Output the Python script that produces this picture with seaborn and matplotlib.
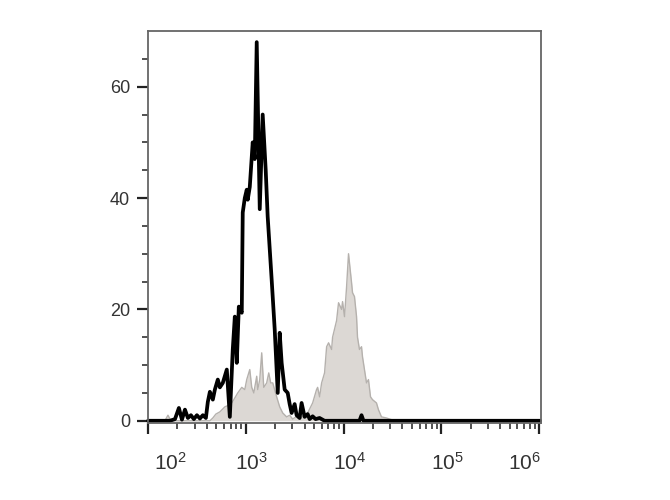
import numpy as np
import seaborn as sns
import matplotlib
matplotlib.use("Agg")
import matplotlib.pyplot as plt
from matplotlib.ticker import LogLocator, FixedLocator, NullFormatter
from matplotlib.transforms import ScaledTranslation

# black histogram (stained sample): log10 intensity and event count
black_log = [2.000, 2.224, 2.276, 2.316, 2.347, 2.378, 2.408, 2.439, 2.469, 2.500,
             2.531, 2.561, 2.592, 2.612, 2.633, 2.663, 2.684, 2.714, 2.735, 2.765,
             2.806, 2.837, 2.867, 2.888, 2.908, 2.929, 2.959, 2.969, 2.990, 3.010,
             3.020, 3.041, 3.071, 3.092, 3.112, 3.143, 3.173, 3.204, 3.224, 3.265,
             3.296, 3.327, 3.347, 3.367, 3.398, 3.429, 3.449, 3.469, 3.500, 3.520,
             3.551, 3.571, 3.602, 3.633, 3.653, 3.684, 3.714, 3.755, 3.806, 4.163,
             4.184, 4.204, 6.010]
black_count = [0, 0, 0.3, 2.3, 0.2, 2.0, 0.5, 1.0, 0.3, 1.0,
               0.4, 1.0, 0.5, 3.4, 5.2, 3.8, 5.6, 7.4, 6.0, 6.8,
               9.2, 0.7, 12.8, 18.7, 10.4, 20.5, 19.4, 37.4, 40.0, 41.5,
               39.7, 42.0, 50.0, 47.0, 68.0, 38.0, 55.0, 45.0, 36.7, 25.3,
               16.4, 5.0, 15.8, 10.4, 5.6, 5.0, 3.0, 1.4, 3.0, 1.0,
               0.5, 3.2, 0.7, 1.2, 0.3, 0.8, 0.3, 0.5, 0, 0,
               1.0, 0, 0]

# gray filled histogram (control)
gray_log = [2.173, 2.204, 2.235, 2.633, 2.663, 2.694, 2.735, 2.786, 2.827, 2.857,
            2.888, 2.918, 2.959, 2.990, 3.010, 3.041, 3.061, 3.082, 3.112, 3.122,
            3.143, 3.163, 3.184, 3.214, 3.235, 3.255, 3.276, 3.316, 3.347, 3.378,
            3.418, 3.449, 3.480, 3.520, 3.551, 3.592, 3.633, 3.684, 3.724, 3.735,
            3.755, 3.776, 3.806, 3.827, 3.847, 3.878, 3.888, 3.929, 3.949, 3.980,
            3.990, 4.010, 4.031, 4.051, 4.082, 4.092, 4.112, 4.133, 4.143, 4.163,
            4.184, 4.194, 4.214, 4.235, 4.255, 4.276, 4.296, 4.337, 4.357, 4.388,
            4.439, 4.490, 4.520]
gray_count = [0, 1.0, 0, 0, 0.5, 1.2, 1.6, 2.5, 2.8, 3.2,
              4.1, 5.0, 6.0, 5.6, 7.4, 9.2, 6.0, 5.0, 8.0, 5.6,
              7.4, 12.2, 6.0, 6.8, 8.6, 6.8, 6.8, 4.3, 2.5, 1.4,
              0.7, 1.0, 0.3, 0.8, 0.3, 1.0, 1.4, 3.2, 5.6, 6.0,
              4.3, 6.8, 8.6, 13.3, 14.0, 12.8, 15.0, 18.0, 21.2, 20.0,
              21.4, 18.7, 24.0, 30.0, 24.8, 23.0, 22.3, 18.7, 15.0, 12.8,
              13.3, 11.5, 9.2, 6.8, 7.4, 4.3, 3.8, 3.2, 2.0, 0.7,
              0.5, 0.2, 0]

x_ticks = [1e2, 1e3, 1e4, 1e5, 1e6]
x_labels = [r"$\mathregular{10^{%d}}$" % e for e in range(2, 7)]
y_ticks = [0, 20, 40, 60]

sns.set_style("ticks")
plt.rcParams["font.family"] = ["Liberation Sans", "DejaVu Sans"]

fig = plt.figure(figsize=(6.7, 5), dpi=100)
ax = fig.add_axes([0.2209, 0.154, 0.5866, 0.784])

black_x = 10 ** np.array(black_log)
gray_x = 10 ** np.array(gray_log)

ax.fill_between(gray_x, gray_count, color="#dcd8d4", lw=0)
sns.lineplot(x=gray_x, y=gray_count, ax=ax, color="#b5b1ad", lw=1.0, legend=False)
sns.lineplot(x=black_x, y=black_count, ax=ax, color="black", lw=2.7, legend=False,
             clip_on=False)

ax.set_xscale("log")
ax.set_xlim(1e2, 10 ** 6.02)
ax.set_ylim(-0.4, 70)
ax.set_xlabel("")
ax.set_ylabel("")

ax.xaxis.set_major_locator(FixedLocator(x_ticks))
ax.xaxis.set_minor_locator(LogLocator(base=10, subs=np.arange(2, 10)))
ax.xaxis.set_minor_formatter(NullFormatter())
ax.set_xticks(x_ticks, x_labels)
ax.set_yticks(y_ticks)
ax.yaxis.set_minor_locator(FixedLocator([v for v in range(5, 70, 5) if v % 20]))

for s in ax.spines.values():
    s.set_color("#666666")
    s.set_linewidth(1.3)

ax.tick_params(axis="both", which="major", length=8, width=1.6, color="#222222",
               labelcolor="#333333")
ax.tick_params(axis="both", which="minor", length=4, width=1.2, color="#333333")
ax.tick_params(axis="x", which="major", pad=13, labelsize=15)
ax.tick_params(axis="y", which="major", pad=5, labelsize=13)

# nudge x labels to sit like the original
labels = ax.get_xticklabels()
for i, lab in enumerate(labels):
    if i == 0:
        lab.set_ha("left")
        dx = 6 / 100
    elif i == len(labels) - 1:
        lab.set_ha("right")
        dx = 2 / 100
    else:
        dx = 6 / 100
    lab.set_transform(lab.get_transform() + ScaledTranslation(dx, 0, fig.dpi_scale_trans))

fig.savefig("out.png", dpi=100)
